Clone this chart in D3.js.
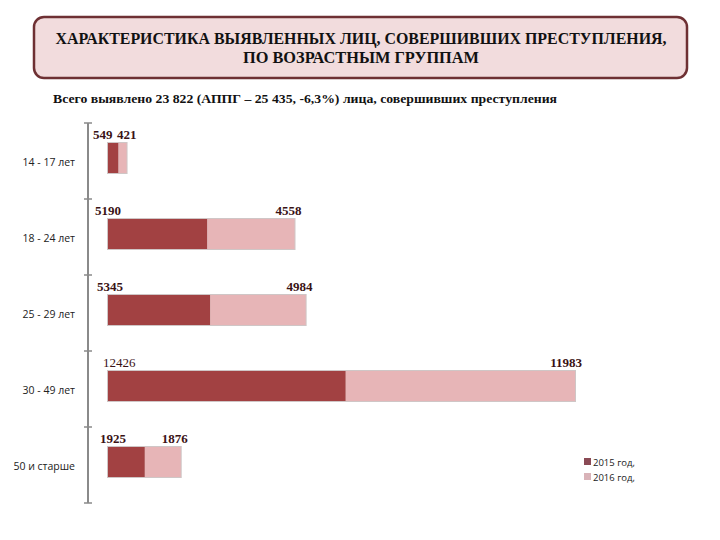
<!DOCTYPE html>
<html><head><meta charset="utf-8">
<script src="https://cdn.jsdelivr.net/npm/d3@7"></script>
<style>body{margin:0;background:#fff}svg{display:block}</style>
</head><body>
<svg id="c" width="720" height="540"></svg>
<script>
const categories = ["14 - 17 лет", "18 - 24 лет", "25 - 29 лет", "30 - 49 лет", "50 и старше"];
const series2015 = [549, 5190, 5345, 12426, 1925];
const series2016 = [421, 4558, 4984, 11983, 1876];
const seriesNames = ["2015 год,", "2016 год,"];
const titleLines = ["ХАРАКТЕРИСТИКА ВЫЯВЛЕННЫХ ЛИЦ, СОВЕРШИВШИХ ПРЕСТУПЛЕНИЯ,", "ПО ВОЗРАСТНЫМ ГРУППАМ"];
const subtitle = "Всего  выявлено 23 822 (АППГ – 25 435, -6,3%) лица, совершивших преступления";

const svg = d3.select("#c");
const c2015 = "#a24142", c2016 = "#e7b5b7";
const serif = "Liberation Serif, Times New Roman, serif";

// title box
svg.append("rect").attr("x", 34).attr("y", 17).attr("width", 653).attr("height", 61)
  .attr("rx", 10).attr("fill", "#f2dcdd").attr("stroke", "#6e3033").attr("stroke-width", 2.5);
const titleW = [611, 236];
svg.selectAll("text.title").data(titleLines).join("text")
  .attr("x", 361).attr("y", (d, i) => 44 + i * 19).attr("text-anchor", "middle")
  .attr("font-family", serif).attr("font-weight", "bold")
  .attr("textLength", (d, i) => titleW[i]).attr("lengthAdjust", "spacingAndGlyphs")
  .attr("font-size", 16.5).attr("fill", "#111").text(d => d);

svg.append("text").attr("x", 53).attr("y", 103)
  .attr("font-family", serif).attr("font-weight", "bold")
  .attr("textLength", 504).attr("lengthAdjust", "spacingAndGlyphs")
  .attr("font-size", 13.5).attr("fill", "#111").text(subtitle);

const x0 = 108;
const x = d3.scaleLinear().domain([0, 24409]).range([x0, 575]);
const y = d3.scaleBand().domain(categories).range([123, 503]);
const step = y.bandwidth();

// axis
const gAx = svg.append("g").attr("transform", "translate(88,0)");
gAx.append("line").attr("x1", 0).attr("x2", 0).attr("y1", 123).attr("y2", 503).attr("stroke", "#8a8a8a").attr("stroke-width", 2);
gAx.selectAll("line.tk").data(d3.range(categories.length + 1)).join("line")
  .attr("x1", -4).attr("x2", 4).attr("y1", d => 123 + d * step).attr("y2", d => 123 + d * step)
  .attr("stroke", "#8a8a8a").attr("stroke-width", 1.5);
gAx.selectAll("text.lab").data(categories).join("text")
  .attr("x", -13).attr("y", d => y(d) + step / 2 + 5)
  .attr("text-anchor", "end").attr("font-family", "Open Sans, DejaVu Sans, sans-serif")
  .attr("font-size", 10.5).attr("fill", "#222").text(d => d);

const bh = 30;
const data = categories.map((c, i) => ({c, a: series2015[i], b: series2016[i], i}));
const by = d => y(d.c) + step / 2 - 18;

const g = svg.append("g");
g.selectAll("rect.sh").data(data).join("rect")
  .attr("x", x0 - 1).attr("y", d => by(d) - 1).attr("width", d => x(d.a + d.b) - x0 + 2).attr("height", bh + 2)
  .attr("fill", "#cfc6c6");
g.selectAll("rect.a").data(data).join("rect")
  .attr("x", x0).attr("y", by).attr("width", d => x(d.a) - x0).attr("height", bh).attr("fill", c2015);
g.selectAll("rect.b").data(data).join("rect")
  .attr("x", d => x(d.a)).attr("y", by).attr("width", d => x(d.a + d.b) - x(d.a)).attr("height", bh).attr("fill", c2016);

const lx = [93, 95, 97, 103, 100];
g.selectAll("text.la").data(data).join("text")
  .attr("x", d => lx[d.i])
  .attr("y", d => by(d) - 4)
  .attr("font-family", serif).attr("font-weight", d => d.i === 3 ? "normal" : "bold")
  .attr("font-size", 13).attr("fill", "#3a1215").text(d => d.a);
g.selectAll("text.lb").data(data).join("text")
  .attr("x", d => x(d.a + d.b) + (d.i === 0 ? 10 : 7)).attr("y", d => by(d) - 4)
  .attr("text-anchor", "end")
  .attr("font-family", serif).attr("font-weight", "bold")
  .attr("font-size", 13).attr("fill", "#3a1215").text(d => d.b);

// legend
const lg = svg.append("g").attr("transform", "translate(584,458)");
lg.selectAll("rect").data(seriesNames).join("rect")
  .attr("x", 0).attr("y", (d, i) => i * 15).attr("width", 7).attr("height", 7)
  .attr("fill", (d, i) => i ? "#d9b3b8" : "#8a4a55");
lg.selectAll("text").data(seriesNames).join("text")
  .attr("x", 9).attr("y", (d, i) => i * 15 + 7.5)
  .attr("font-family", "Open Sans, DejaVu Sans, sans-serif").attr("font-size", 9.5).attr("fill", "#222").text(d => d);
</script>
</body></html>
